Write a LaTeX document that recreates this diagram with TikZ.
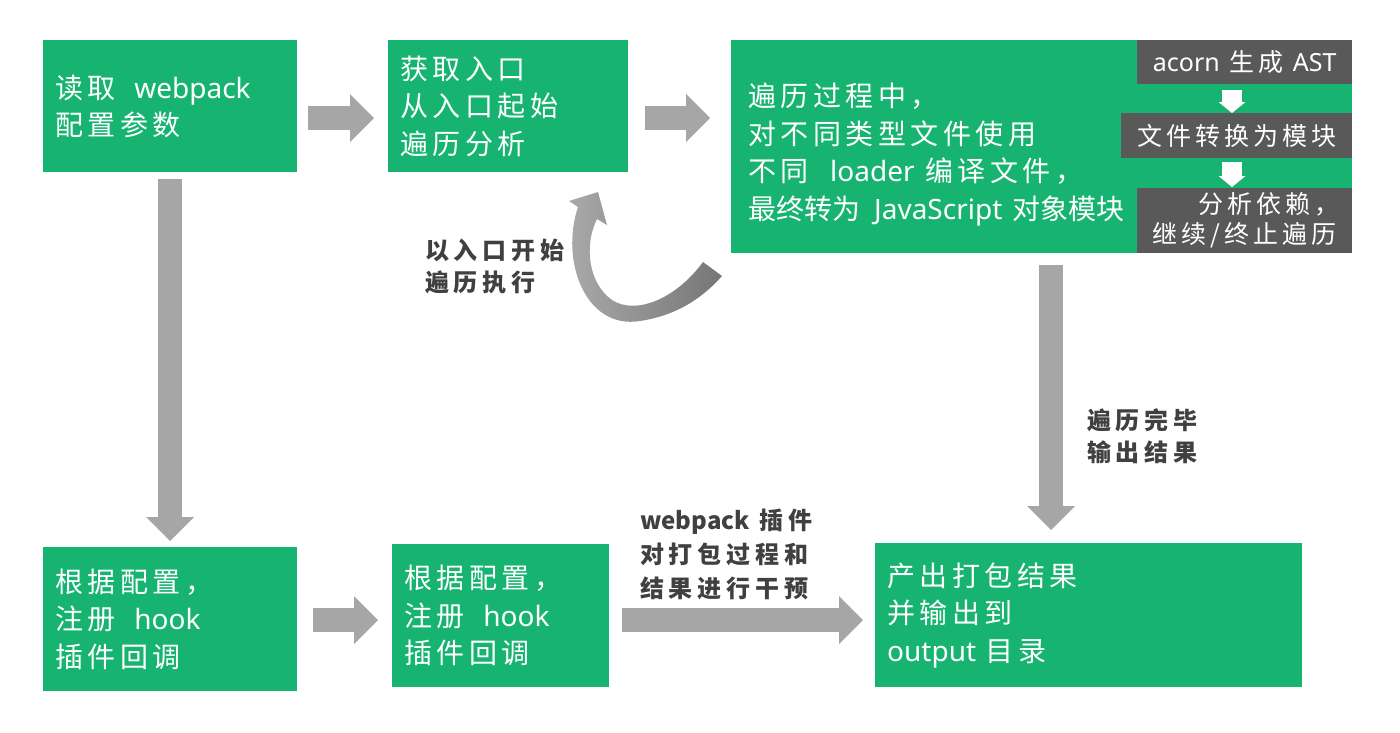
\documentclass[tikz,border=0pt]{standalone}
\usepackage{fontspec}
\setmainfont[LetterSpace=16]{Noto Sans CJK SC}
\newfontfamily\tightcjk{Noto Sans CJK SC}
\newfontfamily\labelfont[LetterSpace=20]{Noto Sans CJK SC}
\newfontfamily\latin{Noto Sans}
\newcommand\en[1]{{\latin #1}}
\usetikzlibrary{arrows.meta}
\definecolor{boxgreen}{RGB}{22,180,112}
\definecolor{boxgray}{RGB}{89,89,89}
\definecolor{arrowgray}{RGB}{166,166,166}
\definecolor{labelgray}{RGB}{64,64,64}
\definecolor{looplight}{RGB}{172,172,172}
\definecolor{loopdark}{RGB}{118,118,118}
\tikzset{
 gbox/.style={fill=boxgreen,text=white,anchor=north west,align=left,inner xsep=12pt,inner ysep=0pt,font=\fontsize{28}{37.5}\selectfont},
 dbox/.style={fill=boxgray,text=white,anchor=north west,align=center,inner sep=0pt,font=\fontsize{25}{30}\selectfont},
 blockarrow/.style={draw=arrowgray,line width=24pt,-{Triangle[length=24pt,width=48pt,line width=0pt]}},
 whitearrow/.style={draw=white,line width=20pt,-{Triangle[length=11pt,width=27pt,line width=0pt]}},
 steplabel/.style={text=labelgray,align=left,inner sep=0pt,anchor=west,font=\labelfont\bfseries\fontsize{24}{32}\selectfont},
}
\begin{document}
\begin{tikzpicture}[x=1pt,y=-1pt]
 \useasboundingbox (0,0) rectangle (1400,732); %画布
 \node[gbox,text width=230pt,minimum height=132pt] (config) at (43,40) {读取~ \en{webpack}\\配置参数}; %读取配置
 \node[gbox,text width=216pt,minimum height=132pt] (entry) at (388,40) {获取入口\\从入口起始\\遍历分析}; %入口
 \node[gbox,minimum width=621pt,minimum height=213pt] (walk) at (731,40) {}; %遍历过程
 \node[gbox,fill=none,inner xsep=0pt,anchor=west] (walktext) at ([xshift=17pt,yshift=-8pt]walk.west) {遍历过程中，\\对不同类型文件使用\\不同~ \en{loader} 编译文件，\\{\tightcjk 最终转为\hspace{14pt}\en{JavaScript}\hspace{10pt}对象模块}};
 \node[dbox,minimum width=215pt,minimum height=44pt] (acorn) at (1137,40) {\en{acorn} 生成 \en{AST}}; %子步骤
 \node[dbox,minimum width=231pt,minimum height=45pt] (module) at (1121,113) {文件转换为模块};
 \node[dbox,minimum width=215pt,minimum height=65pt] (deps) at (1137,188) {\hspace*{48pt}分析依赖，\\继续/终止遍历};
 \node[gbox,text width=230pt,minimum height=144pt] (hook) at (43,547) {根据配置，\\注册~ \en{hook}\\插件回调}; %注册插件
 \node[gbox,text width=193pt,minimum height=143pt] (plugin) at (392,544) {根据配置，\\注册~ \en{hook}\\插件回调};
 \node[gbox,text width=403pt,minimum height=144pt] (output) at (875,543) {产出打包结果\\并输出到\\\en{output} 目录}; %输出
 \node[steplabel] (looplbl) at (425,266) {以入口开始\\遍历执行}; %说明文字
 \node[steplabel] (donelbl) at (1087,436) {遍历完毕\\输出结果};
 \node[steplabel,font=\labelfont\bfseries\fontsize{24}{34}\selectfont] (pluglbl) at (640,554) {{\tightcjk webpack} 插件\\对打包过程和\\结果进行干预};
 \draw[blockarrow,shorten <=11pt,shorten >=14pt] (config.east |- 0,118) -- (entry.west |- 0,118); %箭头
 \draw[blockarrow,shorten <=17pt,shorten >=21pt] (entry.east |- 0,118) -- (walk.west |- 0,118);
 \draw[blockarrow,shorten <=7pt,shorten >=6pt] (config.south) -- (hook.north);
 \draw[blockarrow,shorten <=12pt,shorten >=13pt] (1051,0 |- walk.south) -- (1051,0 |- output.north);
 \draw[blockarrow,shorten <=16pt,shorten >=14pt] (hook.east |- 0,620) -- (plugin.west |- 0,620);
 \draw[blockarrow,shorten <=13pt,shorten >=12pt] (plugin.east |- 0,620) -- (output.west |- 0,620);
 \draw[whitearrow,shorten <=6pt] (1232,0 |- acorn.south) -- (1232,0 |- module.north); %子步骤箭头
 \draw[whitearrow,shorten <=4pt,shorten >=1pt] (1232,0 |- module.south) -- (1232,0 |- deps.north);
 \shade[left color=looplight,right color=loopdark] (569,201) -- (598,192) -- (607,225) -- (597,219)
  .. controls (584,245) and (588,283) .. (612,300) .. controls (635,315) and (675,300) .. (703,262)
  -- (722,276) .. controls (705,295) and (680,315) .. (640,321) .. controls (585,330) and (560,260) .. (578,207) -- cycle; %回到入口的弯箭头
\end{tikzpicture}
\end{document}
